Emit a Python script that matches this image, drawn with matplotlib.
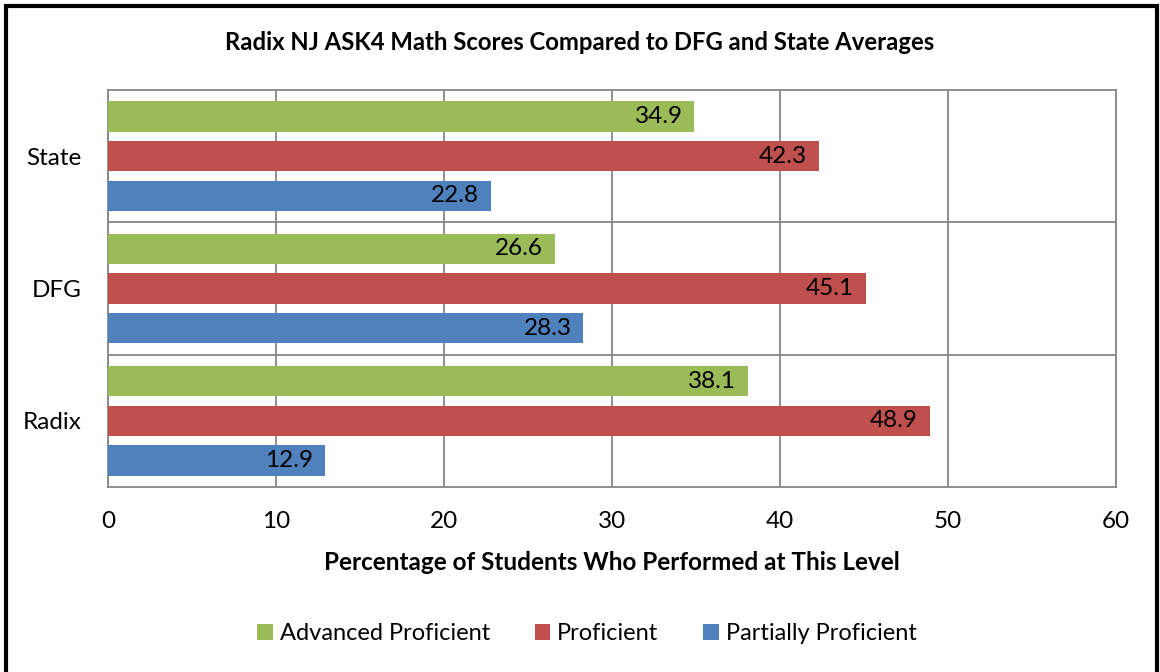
import matplotlib.pyplot as plt
import numpy as np
from matplotlib.patches import Rectangle

plt.rcParams['font.family'] = ['Lato', 'DejaVu Sans']

groups = ["Radix", "DFG", "State"]
series = ["Advanced Proficient", "Proficient", "Partially Proficient"]
advanced = [38.1, 26.6, 34.9]
proficient = [48.9, 45.1, 42.3]
partial = [12.9, 28.3, 22.8]
colors = ["#9BBB59", "#C0504D", "#4F81BD"]

fig = plt.figure(figsize=(11.6, 6.72), dpi=100)
ax = fig.add_axes([108/1160, 1-487/672, 1008/1160, 397/672])

y = np.arange(len(groups))
offsets = [0.3, 0.0, -0.3]
bh = 0.228
for vals, off, col, name in zip([advanced, proficient, partial], offsets, colors, series):
    bars = ax.barh(y + off, vals, height=bh, color=col, label=name, zorder=3)
    for b, v in zip(bars, vals):
        ax.text(v - 0.7, b.get_y() + bh/2, "%.1f" % v, ha="right", va="center",
                fontsize=17.5, color="black", zorder=4)

ax.set_xlim(0, 60)
ax.set_ylim(-0.5, 2.5)
ax.set_xticks(range(0, 61, 10))
ax.set_yticks(y)
ax.set_yticklabels(groups)
ax.tick_params(axis="both", length=0, labelsize=17.5, colors="black")
ax.tick_params(axis="x", pad=17)
ax.tick_params(axis="y", pad=19)
ax.grid(axis="x", color="#878787", linewidth=1.3, zorder=0)
for yy in [0.5, 1.5]:
    ax.axhline(yy, color="#878787", linewidth=1.3, zorder=0)
for s in ax.spines.values():
    s.set_color("#878787")
    s.set_linewidth(1.3)

ax.set_xlabel("Percentage of Students Who Performed at This Level",
              fontsize=17.5, fontweight="bold", labelpad=14)
fig.text(0.5, 1-43/672, "Radix NJ ASK4 Math Scores Compared to DFG and State Averages",
         ha="center", va="center", fontsize=17.2, fontweight="bold")

handles, labels = ax.get_legend_handles_labels()
fig.legend(handles, labels, loc="center", bbox_to_anchor=(587/1160, 1-634/672),
           ncol=3, frameon=False, fontsize=17, handlelength=0.65, handleheight=0.65,
           handletextpad=0.3, columnspacing=1.9)

# outer frame
fig.add_artist(Rectangle((6/1160, -0.05), 1151/1160, 1.05 - 6/672, transform=fig.transFigure,
                         fill=False, edgecolor="black", linewidth=3))

fig.savefig("out.png", dpi=100)
